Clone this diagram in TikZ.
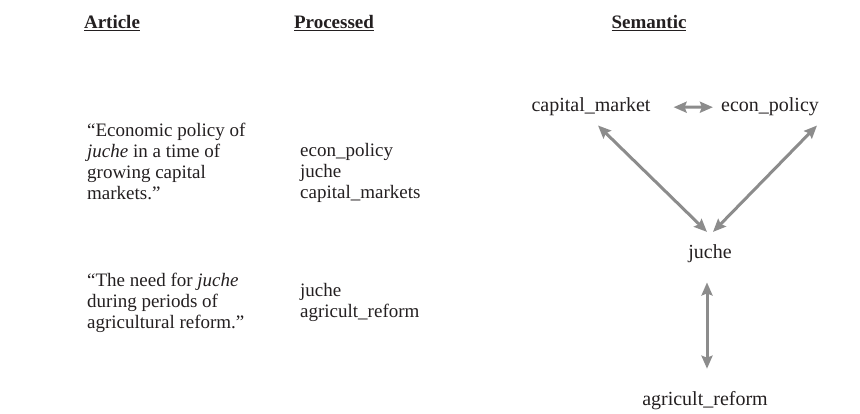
\documentclass[tikz,border=0pt]{standalone}
\usepackage{fontspec}
\setmainfont{Liberation Serif}
\usetikzlibrary{arrows.meta,calc}
\definecolor{ink}{HTML}{231F20}
\definecolor{arrowgray}{HTML}{8C8C8C}
\begin{document}
\begin{tikzpicture}[x=1pt,y=-1pt,
  every node/.style={inner sep=0pt, text=ink, font=\fontsize{19}{21}\selectfont},
  head/.style={anchor=base, font=\fontsize{19}{21}\selectfont\bfseries},
  block/.style={anchor=north west, align=left},
  term/.style={anchor=base, font=\fontsize{20}{21}\selectfont},
  link/.style={draw=arrowgray, line width=3pt,
    {Stealth[length=13pt,width=11pt,inset=2pt]}-{Stealth[length=13pt,width=11pt,inset=2pt]}}]
\useasboundingbox (0,0) rectangle (860,414);
% headings
\node[head] (h1) at (112,29) {\underline{Article}};
\node[head] (h2) at (334,29) {\underline{Processed}};
\node[head] (h3) at (649,29) {\underline{Semantic}};
% articles
\node[block] (a1) at (87,122) {\strut``Economic policy of\\\emph{juche} in a time of\\growing capital\\markets.''};
\node[block] (a2) at (87,272) {\strut``The need for \emph{juche}\\during periods of\\agricultural reform.''};
% processed
\node[block] (p1) at (300,142) {\strut econ\_policy\\juche\\capital\_markets};
\node[block] (p2) at (300,282) {\strut juche\\agricult\_reform};
% semantic
\node[term] (cm) at (591,112) {capital\_market};
\node[term] (ep) at (770,112) {econ\_policy};
\node[term] (j) at (710,259) {juche};
\node[term] (ar) at (705,405) {agricult\_reform};
% connectors
\draw[link] ($(cm.east)+(23,0)$) -- ($(ep.west)+(-8,0)$);
\draw[link] ($(cm.south)+(7,9)$) -- ($(j.north)+(-3,-13)$);
\draw[link] ($(ep.south)+(47,9)$) -- ($(j.north)+(3,-13)$);
\draw[link] ($(j.south)+(-3,19)$) -- ($(ar.north)+(2,-22)$);
\end{tikzpicture}
\end{document}
